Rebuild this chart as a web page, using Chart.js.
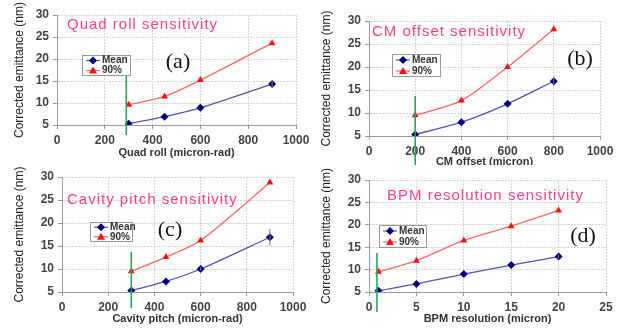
<!DOCTYPE html>
<html>
<head>
<meta charset="utf-8">
<script src="https://cdn.jsdelivr.net/npm/chart.js@4.4.0/dist/chart.umd.min.js"></script>
<style>
body { margin:0; background:#fff; width:633px; height:331px; overflow:hidden; position:relative; }
canvas { position:absolute; }
</style>
</head>
<body>
<canvas id="chartA" width="316" height="165" style="left:0;top:0"></canvas>
<canvas id="chartB" width="320" height="165" style="left:313px;top:0"></canvas>
<canvas id="chartC" width="316" height="166" style="left:0;top:165px"></canvas>
<canvas id="chartD" width="320" height="166" style="left:313px;top:165px"></canvas>
<script>
// data
const quadRoll = [300, 450, 600, 900];
const quadMean = [5.3, 6.9, 8.9, 14.3];
const quad90 = [9.6, 11.5, 15.2, 23.6];
const quadErr = [0, 0, 0, 0.7];

const cmOffset = [200, 400, 600, 800];
const cmMean = [5.3, 8.0, 12.0, 16.9];
const cm90 = [9.5, 12.7, 20.0, 28.2];
const cmErr = [0, 0, 0, 1.0];

const cavPitch = [300, 450, 600, 900];
const cavMean = [5.3, 7.3, 10.0, 16.9];
const cav90 = [9.5, 12.6, 16.2, 28.8];
const cavErr = [0, 0, 0.4, 1.8];

const bpmRes = [1, 5, 10, 15, 20];
const bpmMean = [5.3, 6.8, 9.0, 11.0, 12.9];
const bpm90 = [9.5, 12.0, 16.5, 19.7, 23.2];
const bpmErr = [0, 0, 0, 0, 0.5];

const yTicks = [5, 10, 15, 20, 25, 30];
const seriesNames = ['Mean', '90%'];

const pink = '#ff3d8b';
const navy = '#000080';
const blueLine = '#5555b5';
const red = '#ff1010';
const redLine = '#ff6464';

function pts(xs, ys) {
  return xs.map((x, i) => ({x: x, y: ys[i]}));
}

function drawMarker(ctx, kind, x, y) {
  ctx.beginPath();
  if (kind === 'd') {
    ctx.fillStyle = navy;
    ctx.moveTo(x, y - 4); ctx.lineTo(x + 4, y); ctx.lineTo(x, y + 4); ctx.lineTo(x - 4, y);
  } else {
    ctx.fillStyle = red;
    ctx.moveTo(x, y - 4); ctx.lineTo(x + 4, y + 3); ctx.lineTo(x - 4, y + 3);
  }
  ctx.closePath();
  ctx.fill();
}

// titles, (a)-(d) tags, legend box, green marker line, error bars
const decor = {
  id: 'decor',
  afterDatasetsDraw(chart, args, o) {
    const ctx = chart.ctx;
    const xs = chart.scales.x, ys = chart.scales.y;
    ctx.save();
    // error bars on the mean series
    ctx.strokeStyle = '#777';
    ctx.lineWidth = 1;
    const mean = chart.data.datasets[0].data;
    o.err.forEach((e, i) => {
      if (!e) return;
      const px = xs.getPixelForValue(mean[i].x);
      ctx.beginPath();
      ctx.moveTo(px, ys.getPixelForValue(mean[i].y - e));
      ctx.lineTo(px, ys.getPixelForValue(mean[i].y + e));
      ctx.stroke();
    });
    // green line
    ctx.strokeStyle = '#2aa25a';
    ctx.lineWidth = 1.6;
    const gx = xs.getPixelForValue(o.markX);
    ctx.beginPath();
    ctx.moveTo(gx, o.markTop);
    ctx.lineTo(gx, o.markBottom);
    ctx.stroke();
    // pink title
    ctx.font = '15px "Liberation Sans", Arial, sans-serif';
    ctx.letterSpacing = '1px';
    ctx.fillStyle = pink;
    ctx.textBaseline = 'middle';
    ctx.textAlign = 'left';
    ctx.fillText(o.title, o.titleX, o.titleY);
    ctx.letterSpacing = '0px';
    // tag
    ctx.font = '22px "Liberation Serif", "Times New Roman", serif';
    ctx.fillStyle = '#111';
    ctx.textAlign = 'center';
    ctx.fillText(o.tag, o.tagX, o.tagY);
    // legend
    const L = o.legend;
    ctx.fillStyle = '#fff';
    ctx.fillRect(L[0], L[1], L[2], L[3]);
    ctx.strokeStyle = '#999';
    ctx.lineWidth = 1;
    ctx.strokeRect(L[0] + 0.5, L[1] + 0.5, L[2], L[3]);
    const rowH = L[3] / 2;
    [[blueLine, 'd'], [redLine, 't']].forEach((s, i) => {
      const cy = L[1] + rowH * (i + 0.5) + 0.5;
      ctx.strokeStyle = s[0];
      ctx.lineWidth = 1.2;
      ctx.beginPath();
      ctx.moveTo(L[0] + 4, cy);
      ctx.lineTo(L[0] + 18, cy);
      ctx.stroke();
      drawMarker(ctx, s[1], L[0] + 11, cy);
      ctx.font = 'bold 10px "Liberation Sans", Arial, sans-serif';
      ctx.fillStyle = '#333';
      ctx.textAlign = 'left';
      ctx.fillText(seriesNames[i], L[0] + 20, cy);
    });
    ctx.restore();
  }
};

function makeChart(id, xv, meanV, p90V, err, xMax, xStep, xTitle, box, deco) {
  const ctx = document.getElementById(id).getContext('2d');
  return new Chart(ctx, {
    type: 'line',
    data: {
      datasets: [{
        label: seriesNames[0],
        data: pts(xv, meanV),
        borderColor: blueLine,
        borderWidth: 1.3,
        backgroundColor: navy,
        pointStyle: 'rectRot',
        pointRadius: 4,
        pointBorderWidth: 0,
        tension: 0.25
      }, {
        label: seriesNames[1],
        data: pts(xv, p90V),
        borderColor: redLine,
        borderWidth: 1.3,
        backgroundColor: red,
        pointStyle: 'triangle',
        pointRadius: 4,
        pointBorderWidth: 0,
        tension: 0.25
      }]
    },
    options: {
      responsive: false,
      animation: false,
      layout: { padding: { left: 0, top: box.top, right: box.right, bottom: 0 } },
      plugins: { legend: { display: false }, tooltip: { enabled: false }, decor: deco },
      scales: {
        x: {
          type: 'linear', min: 0, max: xMax,
          afterFit: s => { s.height = box.xh; },
          ticks: { stepSize: xStep, color: '#444', padding: 4, callback: v => String(v),
                   font: { family: '"Liberation Sans", Arial', size: 12, weight: 'bold' } },
          grid: { color: '#d4d4d4', tickLength: 4, tickColor: '#999' },
          border: { color: '#999', dash: [2, 1] },
          title: { display: true, text: xTitle, color: '#333', padding: { top: 0, bottom: box.xtb },
                   font: { family: '"Liberation Sans", Arial', size: 11, weight: 'bold' } }
        },
        y: {
          min: 5, max: 30,
          afterFit: s => { s.width = box.left; },
          afterBuildTicks: s => { s.ticks = yTicks.map(v => ({value: v})); },
          ticks: { color: '#444', padding: 4, font: { family: '"Liberation Sans", Arial', size: 12, weight: 'bold' } },
          grid: { color: '#d4d4d4', tickLength: 4, tickColor: '#999' },
          border: { color: '#999', dash: [2, 1] },
          title: { display: true, text: 'Corrected emittance (nm)', color: '#222', padding: { top: box.ytp, bottom: 0 },
                   font: { family: '"Liberation Sans", Arial', size: 12 } }
        }
      }
    },
    plugins: [decor]
  });
}

makeChart('chartA', quadRoll, quadMean, quad90, quadErr, 1000, 200, 'Quad roll (micron-rad)',
  { left: 57, top: 15, right: 20, xh: 40, xtb: 5, ytp: 12 },
  { title: 'Quad roll sensitivity', titleX: 67, titleY: 25, tag: '(a)', tagX: 178, tagY: 62,
    legend: [82, 55, 48, 20], markX: 290, markTop: 76, markBottom: 135, err: quadErr });

makeChart('chartB', cmOffset, cmMean, cm90, cmErr, 1000, 200, 'CM offset (micron)',
  { left: 56, top: 21, right: 33, xh: 29, xtb: -4, ytp: 6 },
  { title: 'CM offset sensitivity', titleX: 59, titleY: 32, tag: '(b)', tagX: 267, tagY: 59,
    legend: [79, 54, 48, 22], markX: 200, markTop: 96, markBottom: 165, err: cmErr });

makeChart('chartC', cavPitch, cavMean, cav90, cavErr, 1000, 200, 'Cavity pitch (micron-rad)',
  { left: 62, top: 12, right: 23, xh: 39, xtb: 5, ytp: 12 },
  { title: 'Cavity pitch sensitivity', titleX: 67, titleY: 35, tag: '(c)', tagX: 170, tagY: 65,
    legend: [90, 57, 42, 19], markX: 300, markTop: 87, markBottom: 143, err: cavErr });

makeChart('chartD', bpmRes, bpmMean, bpm90, bpmErr, 25, 5, 'BPM resolution (micron)',
  { left: 56, top: 15, right: 27, xh: 39, xtb: 5, ytp: 6 },
  { title: 'BPM resolution sensitivity', titleX: 74, titleY: 31, tag: '(d)', tagX: 270, tagY: 71,
    legend: [66, 60, 47, 22], markX: 0.84, markTop: 88, markBottom: 147, err: bpmErr });
</script>
</body>
</html>
